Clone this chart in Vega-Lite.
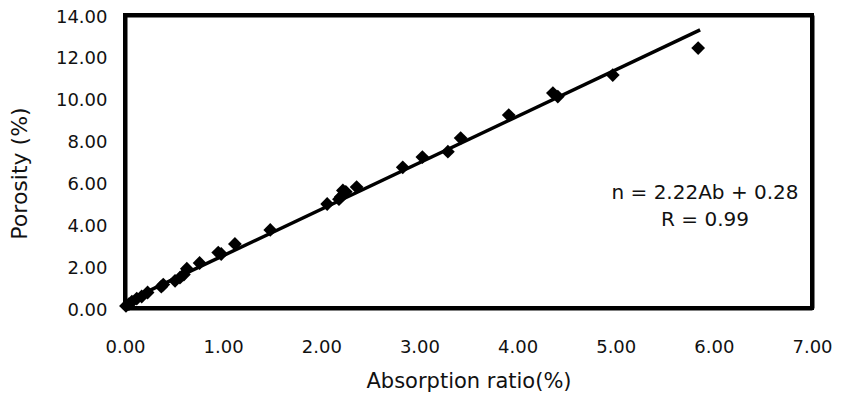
{
  "$schema": "https://vega.github.io/schema/vega-lite/v6.json",
  "width": 687,
  "height": 293,
  "autosize": {"type": "none"},
  "padding": {"left": 125, "top": 15, "right": 32, "bottom": 89},
  "background": "white",
  "view": {"stroke": "black", "strokeWidth": 4},
  "config": {
    "view": {"stroke": "black", "strokeWidth": 4},
    "font": "DejaVu Sans",
    "axis": {
      "grid": false,
      "domain": true,
      "domainColor": "black",
      "domainWidth": 4,
      "ticks": false,
      "labelFlush": false,
      "labelOverlap": false,
      "labelFont": "DejaVu Sans",
      "titleFont": "DejaVu Sans",
      "labelFontSize": 18,
      "titleFontSize": 21,
      "titleFontWeight": "normal",
      "labelColor": "#111",
      "titleColor": "#111"
    }
  },
  "resolve": {"axis": {"x": "independent", "y": "independent"}},
  "datasets": {
    "points": [
      {"ab": 5.84, "n": 12.42},
      {"ab": 4.97, "n": 11.13},
      {"ab": 4.41, "n": 10.1},
      {"ab": 4.36, "n": 10.27},
      {"ab": 3.91, "n": 9.22},
      {"ab": 3.42, "n": 8.12},
      {"ab": 3.29, "n": 7.47},
      {"ab": 3.03, "n": 7.21},
      {"ab": 2.83, "n": 6.72},
      {"ab": 2.36, "n": 5.78},
      {"ab": 2.22, "n": 5.62},
      {"ab": 2.25, "n": 5.55},
      {"ab": 2.20, "n": 5.32},
      {"ab": 2.18, "n": 5.2},
      {"ab": 2.06, "n": 4.97},
      {"ab": 1.48, "n": 3.73},
      {"ab": 1.12, "n": 3.06},
      {"ab": 0.98, "n": 2.58},
      {"ab": 0.95, "n": 2.65},
      {"ab": 0.76, "n": 2.15},
      {"ab": 0.63, "n": 1.88},
      {"ab": 0.60, "n": 1.6},
      {"ab": 0.56, "n": 1.45},
      {"ab": 0.51, "n": 1.3},
      {"ab": 0.39, "n": 1.12},
      {"ab": 0.37, "n": 1.02},
      {"ab": 0.23, "n": 0.74},
      {"ab": 0.17, "n": 0.55},
      {"ab": 0.12, "n": 0.45},
      {"ab": 0.07, "n": 0.3},
      {"ab": 0.04, "n": 0.18},
      {"ab": 0.01, "n": 0.1}
    ],
    "fit": [
      {"ab": 0.0, "n": 0.28},
      {"ab": 5.86, "n": 13.29}
    ],
    "notes": [
      {"ab": 5.91, "n": 5.48, "label": "n = 2.22Ab + 0.28"},
      {"ab": 5.91, "n": 4.2, "label": "R = 0.99"}
    ]
  },
  "layer": [
    {
      "data": {"name": "fit"},
      "mark": {"type": "line", "color": "black", "strokeWidth": 3.5},
      "encoding": {
        "x": {"field": "ab", "type": "quantitative", "scale": {"domain": [0, 7]},
          "axis": {"title": "Absorption ratio(%)", "values": [0,1,2,3,4,5,6,7], "format": ".2f", "labelPadding": 30, "titlePadding": 14, "titleFontSize": 21}},
        "y": {"field": "n", "type": "quantitative", "scale": {"domain": [0, 14]},
          "axis": {"title": "Porosity (%)", "values": [0,2,4,6,8,10,12,14], "format": ".2f", "labelPadding": 18, "labelOffset": 2, "titlePadding": 24, "titleFontSize": 22, "titleY": 158}}
      }
    },
    {
      "data": {"name": "points"},
      "mark": {"type": "point", "shape": "diamond", "filled": true, "color": "black", "opacity": 1, "size": 190},
      "encoding": {
        "x": {"field": "ab", "type": "quantitative",
          "axis": {"orient": "top", "labels": false, "title": null, "values": []}},
        "y": {"field": "n", "type": "quantitative",
          "axis": {"orient": "right", "labels": false, "title": null, "values": []}}
      }
    },
    {
      "data": {"name": "notes"},
      "mark": {"type": "text", "font": "DejaVu Sans", "fontSize": 20, "color": "#111", "align": "center", "baseline": "middle"},
      "encoding": {
        "x": {"field": "ab", "type": "quantitative", "axis": null},
        "y": {"field": "n", "type": "quantitative", "axis": null},
        "text": {"field": "label"}
      }
    }
  ]
}
